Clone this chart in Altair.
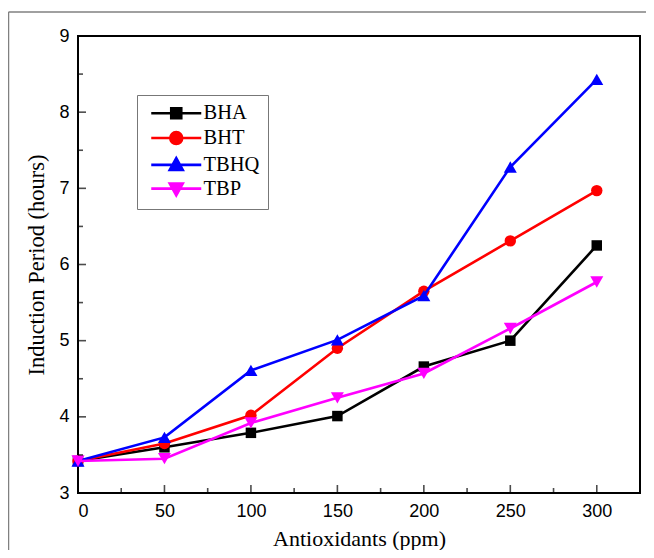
import altair as alt
import pandas as pd

# ---- data ----
x_vals = [0, 50, 100, 150, 200, 250, 300]
series = ["BHA", "BHT", "TBHQ", "TBP"]
bha = [3.42, 3.60, 3.79, 4.01, 4.66, 5.00, 6.25]
bht = [3.42, 3.65, 4.02, 4.90, 5.65, 6.31, 6.97]
tbhq = [3.42, 3.73, 4.61, 5.01, 5.59, 7.28, 8.43]
tbp = [3.42, 3.45, 3.92, 4.25, 4.57, 5.16, 5.77]
colors = ["#000000", "#FF0000", "#0000FF", "#FF00FF"]
marker_shapes = ["square", "circle", "triangle-up", "triangle-down"]
marker_sizes = [110, 130, 170, 170]
x_ticks_major = [0, 50, 100, 150, 200, 250, 300]
x_ticks_minor = [25, 75, 125, 175, 225, 275]
y_ticks_major = [3, 4, 5, 6, 7, 8, 9]
y_ticks_minor = [3.5, 4.5, 5.5, 6.5, 7.5, 8.5]
legend_paths = [
    "M-5,0H5M-1,-1H1V1H-1Z",
    "M-5,0H5M-1.2,0A1.2,1.2 0 1,0 1.2,0A1.2,1.2 0 1,0 -1.2,0Z",
    "M-5,0H5M0,-1.35L1.3,1L-1.3,1Z",
    "M-5,0H5M0,1.35L1.3,-1L-1.3,-1Z",
]

W, H = 562, 457
rows = []
for name, vals in zip(series, [bha, bht, tbhq, tbp]):
    for xv, yv in zip(x_vals, vals):
        rows.append({"series": name, "x": xv, "y": yv})
df = pd.DataFrame(rows)

xscale = alt.Scale(domain=[0, 325], nice=False, zero=False)
yscale = alt.Scale(domain=[3, 9], nice=False, zero=False)

xaxis = alt.Axis(values=x_ticks_major, ticks=False, domain=False, grid=False,
                 labelFont="Liberation Sans", labelFontSize=18, labelColor="#000",
                 labelPadding=9, title="Antioxidants (ppm)", titleFont="Liberation Serif",
                 titleFontSize=22, titleFontWeight="normal", titleColor="#000", titlePadding=8)
yaxis = alt.Axis(values=y_ticks_major, ticks=False, domain=False, grid=False,
                 labelFont="Liberation Sans", labelFontSize=18, labelColor="#000",
                 labelPadding=9, title="Induction Period (hours)", titleFont="Liberation Serif",
                 titleFontSize=22.5, titleFontWeight="normal", titleColor="#000", titlePadding=10)


def ex(field):
    return alt.X(field, scale=xscale, axis=xaxis)


def ey(field):
    return alt.Y(field, scale=yscale, axis=yaxis)


base = alt.Chart(df)
layers = []
for i, name in enumerate(series):
    sub = base.transform_filter(alt.datum.series == name)
    layers.append(sub.mark_line(strokeWidth=2.6, color=colors[i]).encode(x=ex("x:Q"), y=ey("y:Q")))
    layers.append(sub.mark_point(shape=marker_shapes[i], filled=True, opacity=1,
                                 size=marker_sizes[i], color=colors[i]).encode(
        x=ex("x:Q"), y=ey("y:Q")))


def tick_df(vals):
    return pd.DataFrame({"x": vals, "y": vals})


# inward axis ticks
xt_major = alt.Chart(tick_df(x_ticks_major)).mark_tick(size=8, thickness=1.6, color="#000").encode(
    x=ex("x:Q"), y=alt.value(H - 4))
xt_minor = alt.Chart(tick_df(x_ticks_minor)).mark_tick(size=5, thickness=1.6, color="#000").encode(
    x=ex("x:Q"), y=alt.value(H - 2.5))
yt_major = alt.Chart(tick_df(y_ticks_major)).mark_tick(size=8, thickness=1.6, color="#000").encode(
    y=ey("y:Q"), x=alt.value(4))
yt_minor = alt.Chart(tick_df(y_ticks_minor)).mark_tick(size=5, thickness=1.6, color="#000").encode(
    y=ey("y:Q"), x=alt.value(2.5))

# legend-only layer
leg = alt.Legend(title=None, orient="none", legendX=59, legendY=59, padding=8,
                 fillColor="#FFFFFF", strokeColor="#777777", labelFont="Liberation Serif",
                 labelFontSize=20.5, labelColor="#000", symbolSize=100, symbolOffset=21,
                 labelOffset=17, rowPadding=2.8, symbolStrokeWidth=2.6)
legend_layer = base.transform_filter("false").mark_point(opacity=1, strokeWidth=2.6).encode(
    x=ex("x:Q"), y=ey("y:Q"),
    shape=alt.Shape("series:N", scale=alt.Scale(domain=series, range=legend_paths), legend=leg),
    fill=alt.Fill("series:N", scale=alt.Scale(domain=series, range=colors), legend=leg),
    stroke=alt.Stroke("series:N", scale=alt.Scale(domain=series, range=colors), legend=leg),
)

# outer grey frame
frame_left = alt.Chart(tick_df([0])).mark_rule(color="#808080", strokeWidth=1.5).encode(
    x=alt.value(-69.5), y=alt.value(-24), y2=alt.value(H + 80))
frame_top = alt.Chart(tick_df([0])).mark_rule(color="#808080", strokeWidth=1.5).encode(
    x=alt.value(-69.5), x2=alt.value(W + 40), y=alt.value(-24))

chart = alt.layer(*layers, xt_major, xt_minor, yt_major, yt_minor, legend_layer,
                  frame_left, frame_top).properties(
    width=W, height=H,
    autosize=alt.AutoSizeParams(type="none"),
    padding={"left": 70, "top": 28, "right": 6, "bottom": 57},
    background="#FFFFFF",
).configure_view(stroke="#000000", strokeWidth=2)

chart.save("out.html", embed_options={"renderer": "svg", "actions": False})
